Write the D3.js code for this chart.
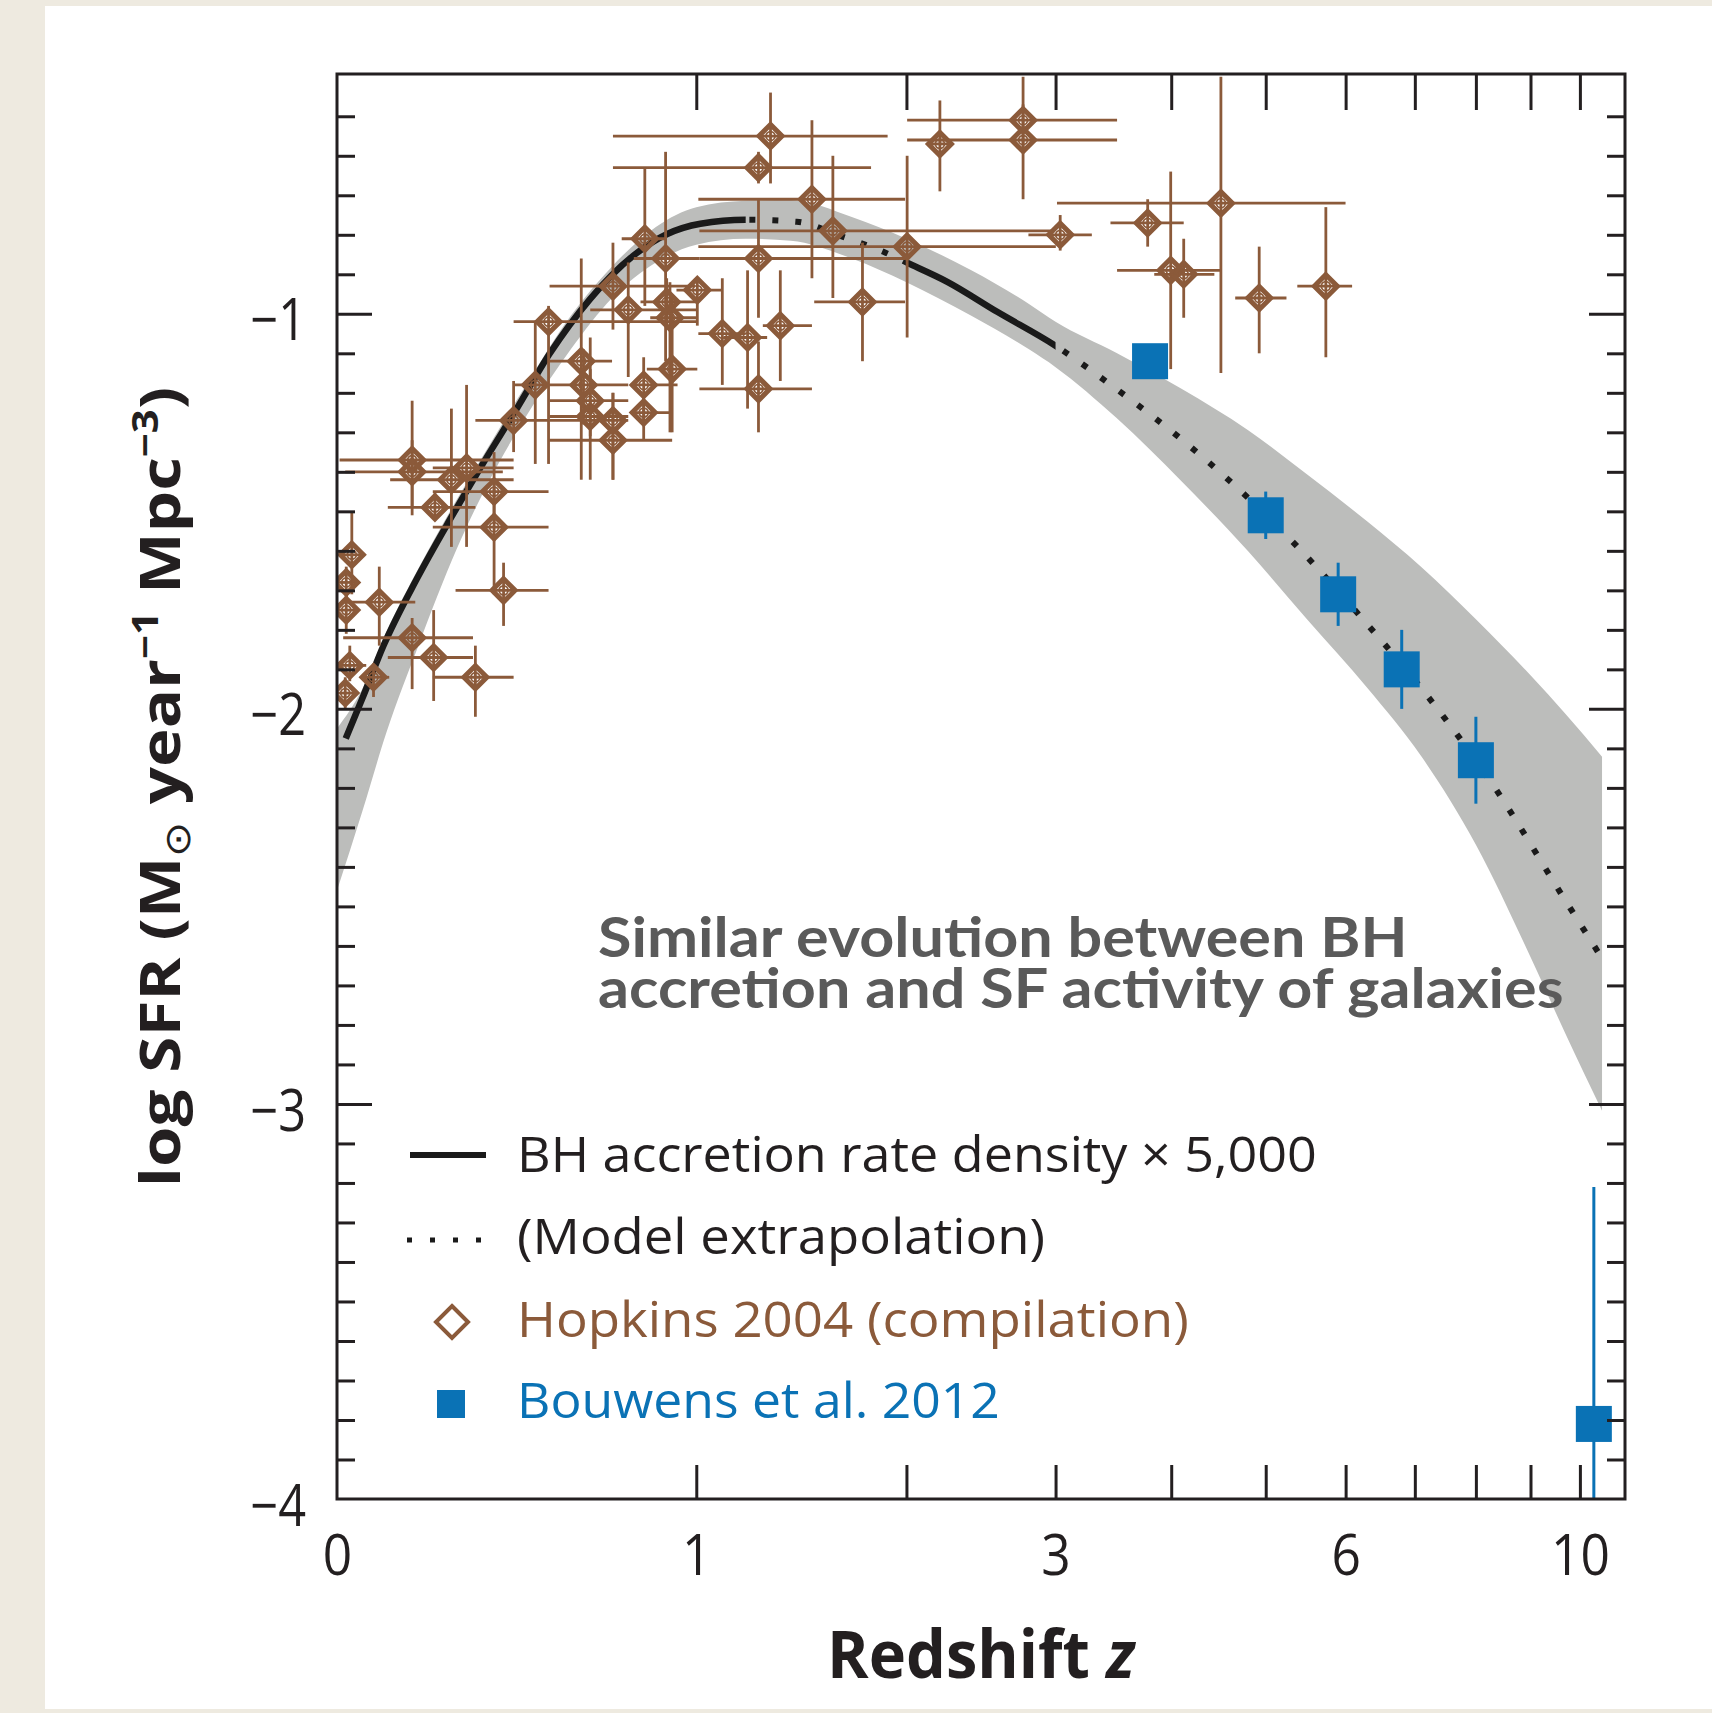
<!DOCTYPE html>
<html>
<head>
<meta charset="utf-8">
<script src="https://cdn.jsdelivr.net/npm/d3@7"></script>
<style>
  html, body { margin: 0; padding: 0; background: #eeeae0; overflow: hidden; }
  svg { display: block; }
</style>
</head>
<body>
<svg id="chart" width="1712" height="1713"></svg>
<script>
// ---------------- data ----------------
// Hopkins (2004) compilation: redshift, redshift range, log SFR density and its range
const hopkinsZ     = [0.029,0.018,0.018,0.025,0.016,0.073,0.085,0.156,0.205,0.306,0.156,0.156,0.247,0.284,0.208,0.354,0.354,0.379,0.406,0.466,0.504,0.602,0.609,0.630,0.630,0.703,0.703,0.807,0.807,0.703,0.754,0.811,0.885,0.889,0.901,0.909,1.004,1.103,1.208,1.352,1.255,1.255,1.308,1.255,1.500,1.603,1.756,2.004,2.200,2.757,2.757,3.036,3.778,4.503,3.995,4.122,4.925,5.738];
const hopkinsZLow  = [0.005,0.001,0.001,0.001,0.001,0.046,0.012,0.012,0.103,0.203,0.005,0.016,0.108,0.203,0.103,0.203,0.203,0.257,0.306,0.406,0.406,0.507,0.507,0.507,0.507,0.507,0.504,0.762,0.762,0.507,0.630,0.732,0.773,0.796,0.830,0.818,0.925,1.008,1.108,1.274,1.012,1.012,0.703,0.703,1.008,1.012,1.511,1.008,2.134,2.004,2.004,2.796,3.447,3.011,3.504,3.839,4.657,5.377];
const hopkinsZHigh = [0.053,0.040,0.040,0.058,0.038,0.106,0.163,0.300,0.300,0.406,0.406,0.377,0.406,0.406,0.306,0.504,0.504,0.504,0.504,0.504,1.004,0.700,0.754,0.754,0.754,0.754,0.909,0.929,0.909,0.995,1.004,0.889,1.012,1.004,1.004,1.004,1.103,1.199,1.293,1.500,1.500,1.992,1.893,1.802,1.992,2.994,1.992,3.002,2.269,3.504,3.504,3.290,4.122,5.999,4.503,4.434,5.245,6.088];
const hopkinsSFR     = [-1.61,-1.68,-1.75,-1.89,-1.96,-1.92,-1.73,-1.82,-1.87,-1.92,-1.37,-1.40,-1.42,-1.39,-1.49,-1.45,-1.54,-1.70,-1.27,-1.18,-1.02,-1.12,-1.18,-1.22,-1.26,-1.27,-1.32,-1.18,-1.25,-0.93,-0.99,-0.81,-0.86,-0.97,-1.01,-1.14,-0.94,-1.05,-1.06,-1.03,-1.19,-0.86,-0.55,-0.63,-0.71,-0.79,-0.97,-0.83,-0.57,-0.51,-0.56,-0.80,-0.77,-0.72,-0.89,-0.90,-0.96,-0.93];
const hopkinsSFRLow  = [-1.71,-1.72,-1.81,-1.93,-2.00,-1.97,-1.84,-1.95,-1.98,-2.02,-1.51,-1.49,-1.59,-1.59,-1.52,-1.53,-1.71,-1.79,-1.35,-1.38,-1.38,-1.42,-1.28,-1.31,-1.42,-1.42,-1.42,-1.27,-1.32,-1.04,-1.16,-0.98,-1.12,-1.03,-1.30,-1.30,-1.03,-1.18,-1.24,-1.17,-1.30,-1.01,-0.67,-0.67,-0.91,-0.96,-1.12,-1.06,-0.69,-0.59,-0.71,-0.84,-0.83,-1.15,-1.14,-1.01,-1.10,-1.11];
const hopkinsSFRHigh = [-1.50,-1.64,-1.70,-1.84,-1.92,-1.89,-1.64,-1.77,-1.75,-1.84,-1.22,-1.32,-1.24,-1.18,-1.45,-1.35,-1.42,-1.63,-1.17,-1.02,-0.98,-0.86,-1.09,-1.14,-1.06,-1.20,-1.20,-1.11,-1.21,-0.82,-0.87,-0.63,-0.59,-0.91,-0.92,-0.96,-0.91,-0.91,-0.89,-0.89,-1.07,-0.71,-0.44,-0.59,-0.51,-0.60,-0.82,-0.60,-0.46,-0.40,-0.47,-0.75,-0.71,-0.40,-0.64,-0.81,-0.83,-0.73];

// Bouwens et al. (2012) UV-selected galaxies
const bouwensZ       = [3.8, 5.0, 5.9, 6.8, 8.0, 10.3];
const bouwensSFR     = [-1.12, -1.51, -1.71, -1.90, -2.13, -3.81];
const bouwensErrUp   = [0.02, 0.06, 0.08, 0.10, 0.11, 0.60];
const bouwensErrDown = [0.02, 0.06, 0.08, 0.10, 0.11, 0.80];

// BH accretion rate density x 5,000 (model curve)
const modelZ   = [0.017, 0.05, 0.0935, 0.166, 0.244, 0.327, 0.414, 0.508, 0.630, 0.771, 0.891, 1.016, 1.2, 1.428, 1.641, 1.870, 2.0, 2.246, 2.574, 3.0, 3.473, 4.158, 5.264, 6.26, 7.135, 8.28, 9.68, 10.5];
const modelSFR = [-2.075, -1.974, -1.841, -1.672, -1.520, -1.376, -1.241, -1.100, -0.962, -0.853, -0.798, -0.772, -0.762, -0.767, -0.803, -0.843, -0.870, -0.919, -0.995, -1.081, -1.185, -1.330, -1.565, -1.778, -1.955, -2.188, -2.482, -2.635];
const solidRanges  = [[0, 1.2], [2.0, 3.0]];
const dottedRanges = [[1.2, 2.0], [3.0, 11]];

// uncertainty band around the model
const bandZ    = [0, 0.05, 0.1, 0.17, 0.26, 0.34, 0.44, 0.57, 0.7, 0.85, 1.0, 1.2, 1.4, 1.7, 2.0, 2.4, 2.8, 3.0, 3.5, 4.1, 4.8, 5.5, 6.3, 7.1, 8.0, 9.0, 9.7, 10.48];
const bandLow  = [-2.46, -2.26, -2.06, -1.84, -1.595, -1.425, -1.26, -1.09, -0.96, -0.87, -0.825, -0.81, -0.815, -0.86, -0.92, -1.005, -1.09, -1.135, -1.264, -1.424, -1.601, -1.774, -1.947, -2.120, -2.344, -2.628, -2.823, -3.017];
const bandHigh = [-2.05, -1.95, -1.805, -1.645, -1.47, -1.335, -1.18, -1.005, -0.88, -0.78, -0.73, -0.714, -0.712, -0.755, -0.81, -0.89, -0.975, -1.02, -1.099, -1.190, -1.295, -1.407, -1.526, -1.641, -1.773, -1.915, -2.013, -2.121];

// axes
const zTickValues  = [1, 2, 3, 4, 5, 6, 7, 8, 9, 10];
const zTickLabels  = [0, 1, 3, 6, 10];
const yMajorTicks  = [-4, -3, -2, -1];
const legendLabels = ["BH accretion rate density \u00d7 5,000", "(Model extrapolation)", "Hopkins 2004 (compilation)", "Bouwens et al. 2012"];
const noteLines    = ["Similar evolution between BH", "accretion and SF activity of galaxies"];

// ---------------- drawing ----------------
const W = 1712, H = 1713;
const plotL = 337, plotR = 1625, plotT = 74, plotB = 1499;
const ink = "#231f20", brown = "#8b5a3a", blue = "#0a72b5", bandFill = "#bcbdbb";
const sans = "'Open Sans', 'Noto Sans', sans-serif";

const svg = d3.select("#chart");
svg.append("rect").attr("x", 45).attr("y", 6).attr("width", W - 45).attr("height", 1709 - 6).attr("fill", "#ffffff");

// x is log(1+z)
const x = d3.scaleLog().domain([1, 12]).range([plotL, plotR]);
const X = z => x(1 + z);
const y = d3.scaleLinear().domain([-4, -0.393]).range([plotB, plotT]);

const defs = svg.append("defs");
defs.append("clipPath").attr("id", "plotClip")
  .append("rect").attr("x", plotL).attr("y", plotT).attr("width", plotR - plotL).attr("height", plotB - plotT);
const solidClip = defs.append("clipPath").attr("id", "solidClip");
solidRanges.forEach(([a, b]) => solidClip.append("rect")
  .attr("x", a === 0 ? 0 : X(a)).attr("y", 0).attr("width", X(b) - (a === 0 ? 0 : X(a))).attr("height", H));
const dottedClip = defs.append("clipPath").attr("id", "dottedClip");
dottedRanges.forEach(([a, b]) => dottedClip.append("rect")
  .attr("x", X(a)).attr("y", 0).attr("width", X(b) - X(a)).attr("height", H));

const plot = svg.append("g").attr("clip-path", "url(#plotClip)");

// band
const band = bandZ.map((z, i) => ({ z, lo: bandLow[i], hi: bandHigh[i] }));
plot.append("path").datum(band)
  .attr("d", d3.area().x(d => X(d.z)).y0(d => y(d.lo)).y1(d => y(d.hi)).curve(d3.curveMonotoneX))
  .attr("fill", bandFill);

// model curve: solid where constrained, dotted where extrapolated
const model = modelZ.map((z, i) => ({ z, v: modelSFR[i] }));
const lineGen = d3.line().x(d => X(d.z)).y(d => y(d.v)).curve(d3.curveMonotoneX);
plot.append("path").datum(model).attr("d", lineGen)
  .attr("fill", "none").attr("stroke", "#1a1a1a").attr("stroke-width", 6.5)
  .attr("clip-path", "url(#solidClip)");
plot.append("path").datum(model).attr("d", lineGen)
  .attr("fill", "none").attr("stroke", "#1a1a1a").attr("stroke-width", 6)
  .attr("stroke-dasharray", "6,17").attr("clip-path", "url(#dottedClip)");

// Hopkins compilation
const hop = hopkinsZ.map((z, i) => ({
  z, zl: hopkinsZLow[i], zh: hopkinsZHigh[i],
  v: hopkinsSFR[i], vl: hopkinsSFRLow[i], vh: hopkinsSFRHigh[i]
}));
const hg = plot.append("g").attr("stroke", brown).attr("fill", "none");
hg.selectAll("line.h").data(hop).join("line").attr("class", "h")
  .attr("x1", d => X(d.zl)).attr("x2", d => X(d.zh)).attr("y1", d => y(d.v)).attr("y2", d => y(d.v))
  .attr("stroke-width", 2.8);
hg.selectAll("line.v").data(hop).join("line").attr("class", "v")
  .attr("x1", d => X(d.z)).attr("x2", d => X(d.z)).attr("y1", d => y(d.vl)).attr("y2", d => y(d.vh))
  .attr("stroke-width", 2.8);
const diamond = r => `M0,${-r}L${r},0L0,${r}L${-r},0Z`;
hg.selectAll("path.d").data(hop).join("path").attr("class", "d")
  .attr("transform", d => `translate(${X(d.z)},${y(d.v)})`)
  .attr("d", diamond(11.5)).attr("stroke-width", 5).attr("stroke-linejoin", "miter");
hg.selectAll("circle").data(hop).join("circle")
  .attr("cx", d => X(d.z)).attr("cy", d => y(d.v)).attr("r", 4.5).attr("stroke-width", 1.8);

// Bouwens et al.
const bou = bouwensZ.map((z, i) => ({ z, v: bouwensSFR[i], up: bouwensErrUp[i], dn: bouwensErrDown[i] }));
const bg = plot.append("g");
bg.selectAll("line").data(bou).join("line")
  .attr("x1", d => X(d.z)).attr("x2", d => X(d.z))
  .attr("y1", d => y(d.v - d.dn)).attr("y2", d => y(d.v + d.up))
  .attr("stroke", blue).attr("stroke-width", 3);
bg.selectAll("rect").data(bou).join("rect")
  .attr("x", d => X(d.z) - 18).attr("y", d => y(d.v) - 18).attr("width", 36).attr("height", 36)
  .attr("fill", blue);

// ---------------- axes ----------------
function tidy(g) {
  g.select(".domain").remove();
  g.selectAll(".tick line").attr("stroke", ink).attr("stroke-width", 3);
  g.selectAll("text").attr("font-family", sans).attr("font-size", 56).attr("fill", ink);
}
const yMinor = d3.range(-39, -4).map(i => i / 10).filter(v => Math.abs(v - Math.round(v)) > 1e-6);
const yMajorInner = yMajorTicks.filter(v => v > -4);

svg.append("g").attr("transform", `translate(0,${plotB})`)
  .call(d3.axisBottom(x).tickValues(zTickValues.map(z => 1 + z)).tickSize(-34).tickFormat(""))
  .call(tidy);
svg.append("g").attr("transform", `translate(0,${plotT})`)
  .call(d3.axisTop(x).tickValues(zTickValues.map(z => 1 + z)).tickSize(-36).tickFormat(""))
  .call(tidy);
const xLab = svg.append("g").attr("transform", `translate(0,${plotB})`)
  .call(d3.axisBottom(x).tickValues(zTickLabels.map(z => 1 + z)).tickSize(0).tickPadding(36)
    .tickFormat(d => String(Math.round(d - 1))))
  .call(tidy);
xLab.selectAll("text").attr("transform", "scale(0.92,1)");

svg.append("g").attr("transform", `translate(${plotL},0)`)
  .call(d3.axisLeft(y).tickValues(yMinor).tickSize(-18).tickFormat("")).call(tidy);
svg.append("g").attr("transform", `translate(${plotL},0)`)
  .call(d3.axisLeft(y).tickValues(yMajorInner).tickSize(-35).tickFormat("")).call(tidy);
svg.append("g").attr("transform", `translate(${plotR},0)`)
  .call(d3.axisRight(y).tickValues(yMinor).tickSize(-18).tickFormat("")).call(tidy);
svg.append("g").attr("transform", `translate(${plotR},0)`)
  .call(d3.axisRight(y).tickValues(yMajorInner).tickSize(-36).tickFormat("")).call(tidy);
const yLab = svg.append("g").attr("transform", `translate(${plotL},0)`)
  .call(d3.axisLeft(y).tickValues(yMajorTicks).tickSize(0).tickPadding(31).tickFormat(d3.format("d")))
  .call(tidy);
yLab.selectAll("text").attr("dy", "0.45em").attr("font-size", 58)
  .attr("transform", "translate(-31,0) scale(0.84,1) translate(31,0)");

svg.append("rect").attr("x", plotL).attr("y", plotT).attr("width", plotR - plotL).attr("height", plotB - plotT)
  .attr("fill", "none").attr("stroke", ink).attr("stroke-width", 3);

// ---------------- text ----------------
function fit(sel, x0, y0, width) {
  sel.attr("x", 0).attr("y", 0);
  const w = sel.node().getComputedTextLength();
  sel.attr("transform", `translate(${x0},${y0}) scale(${width / w},1)`);
  return sel;
}

// axis titles
const xt = svg.append("text").attr("text-anchor", "middle").attr("font-family", sans)
  .attr("font-weight", 700).attr("font-size", 66).attr("fill", ink);
xt.append("tspan").text("Redshift ");
xt.append("tspan").attr("font-style", "italic").text("z");
fit(xt, 981, 1678, 308);

const yt = svg.append("text").attr("text-anchor", "middle").attr("font-family", sans)
  .attr("font-weight", 700).attr("font-size", 56).attr("fill", ink);
yt.append("tspan").text("log SFR (M");
yt.append("tspan").attr("font-size", 36).attr("font-weight", 400).attr("dy", 10).text("\u2299");
yt.append("tspan").attr("dy", -10).text(" year");
yt.append("tspan").attr("font-size", 36).attr("dy", -22).text("\u22121");
yt.append("tspan").attr("dy", 22).text(" Mpc");
yt.append("tspan").attr("font-size", 36).attr("dy", -22).text("\u22123");
yt.append("tspan").attr("dy", 22).text(")");
{
  const w = yt.node().getComputedTextLength();
  yt.attr("x", 0).attr("y", 0).attr("transform", `translate(180,787) rotate(-90) scale(${800 / w},1)`);
}

// annotation: one text block, two lines
{
  const note = svg.append("text").attr("font-family", "Lato, 'Open Sans', sans-serif").attr("font-weight", 700)
    .attr("font-size", 55).attr("fill", "#5a5a5a");
  const t1 = note.append("tspan").attr("x", 0).attr("y", 0).text(noteLines[0]);
  const t2 = note.append("tspan").attr("x", 0).attr("y", 51).text(noteLines[1]);
  const w1 = t1.node().getComputedTextLength();
  const w2 = t2.node().getComputedTextLength();
  const s = (808 / w1 + 968 / w2) / 2;
  note.attr("transform", `translate(598,957) scale(${s},1)`);
}

// legend
const lg = svg.append("g");
lg.append("line").attr("x1", 410).attr("x2", 486).attr("y1", 1155).attr("y2", 1155)
  .attr("stroke", "#1a1a1a").attr("stroke-width", 6);
lg.append("line").attr("x1", 407).attr("x2", 486).attr("y1", 1240).attr("y2", 1240)
  .attr("stroke", "#1a1a1a").attr("stroke-width", 5).attr("stroke-dasharray", "5,18");
lg.append("path").attr("transform", "translate(452,1322)").attr("d", diamond(16))
  .attr("fill", "none").attr("stroke", brown).attr("stroke-width", 4);
lg.append("rect").attr("x", 437).attr("y", 1390).attr("width", 28).attr("height", 28).attr("fill", blue);
const legColors = [ink, ink, brown, blue];
const legW = [800, 528, 672, 483];
const legY = [1172, 1254, 1337, 1418];
legendLabels.forEach((t, i) => {
  const s = lg.append("text").attr("font-family", sans).attr("font-size", 49).attr("fill", legColors[i]).text(t);
  fit(s, 517, legY[i], legW[i]);
});
</script>
</body>
</html>
